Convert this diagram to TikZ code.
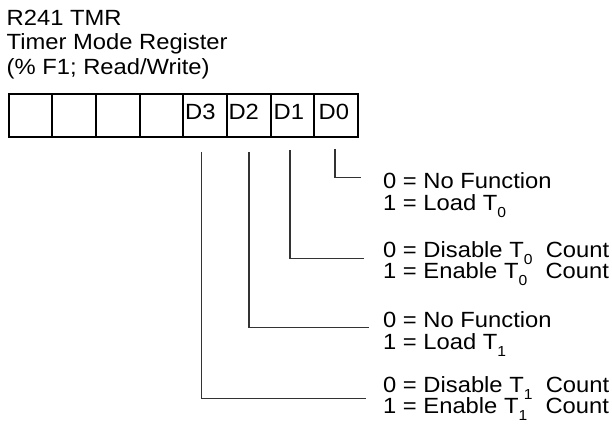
\documentclass[tikz,border=0pt]{standalone}
\usepackage{fontspec}
\setmainfont[FakeStretch=1.08]{Liberation Sans}
\newcommand\subsc[1]{\raisebox{-7pt}{\fontsize{14.5}{14.5}\selectfont #1}}
\begin{document}
\begin{tikzpicture}[x=1pt,y=-1pt,
  txt/.style={anchor=base west,inner sep=0pt,font=\fontsize{22}{22}\selectfont},
  cell/.style={draw=black,line width=2pt,minimum width=43.69pt,minimum height=43pt,inner sep=0pt,anchor=north west},
  conn/.style={draw=black!80,line width=1.4pt}]
\useasboundingbox (0,0) rectangle (612,430);
% title
\node[txt] (t1) at (6.5,25.7) {R241 TMR};
\node[txt] (t2) at (6.5,50) {Timer Mode Register};
\node[txt] (t3) at (6.5,75) {(\% F1; Read/Write)};
% register cells
\node[cell] (c7) at (7.5,93) {};
\node[cell] (c6) at (51.19,93) {};
\node[cell] (c5) at (94.88,93) {};
\node[cell] (c4) at (138.57,93) {};
\node[cell] (c3) at (182.26,93) {};
\node[cell] (c2) at (225.95,93) {};
\node[cell] (c1) at (269.64,93) {};
\node[cell] (c0) at (313.33,93) {};
\node[txt] (d3) at (185,119.5) {D3};
\node[txt] (d2) at (228.3,119.5) {D2};
\node[txt] (d1) at (273.5,119.5) {D1};
\node[txt] (d0) at (318.5,119.5) {D0};
% connector ends
\coordinate (s3) at (201.5,152);
\coordinate (s2) at (249,152);
\coordinate (s1) at (290,150);
\coordinate (s0) at (335,149);
\coordinate (e3) at (366,398.3);
\coordinate (e2) at (369,327.7);
\coordinate (e1) at (364,258.3);
\coordinate (e0) at (361,177.7);
\draw[conn] (s0) |- (e0);
\draw[conn] (s1) |- (e1);
\draw[conn] (s2) |- (e2);
\draw[conn] (s3) |- (e3);
% descriptions
\node[txt] (a0) at (383,188.3) {0 = No Function};
\node[txt] (b0) at (383,211) {1 = Load T\subsc{0}};
\node[txt] (a1) at (383,257) {0 = Disable T\subsc{0}\ \ Count};
\node[txt] (b1) at (383,278) {1 = Enable T\subsc{0}\ \ \hspace{5pt}Count};
\node[txt] (a2) at (383,327) {0 = No Function};
\node[txt] (b2) at (383,349) {1 = Load T\subsc{1}};
\node[txt] (a3) at (383,392) {0 = Disable T\subsc{1}\ \ Count};
\node[txt] (b3) at (383,413) {1 = Enable T\subsc{1}\ \ \hspace{5pt}Count};
\end{tikzpicture}
\end{document}
